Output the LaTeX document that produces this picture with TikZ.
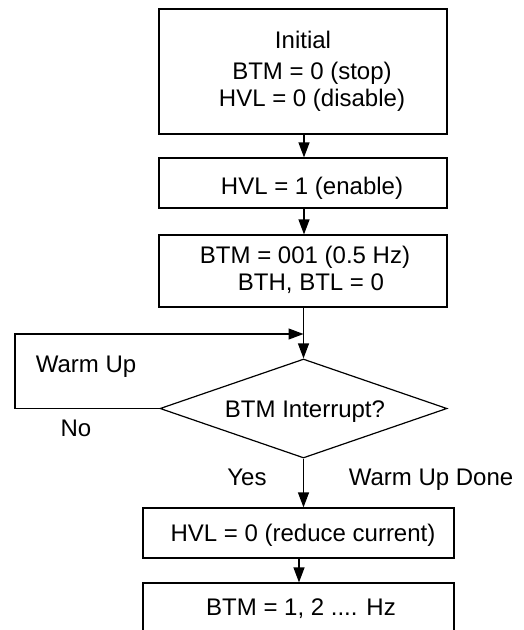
\documentclass[tikz,border=0pt]{standalone}
\usepackage{fontspec}
\setmainfont{Liberation Sans}
\usetikzlibrary{shapes.geometric,arrows.meta}
\begin{document}
\begin{tikzpicture}[x=1pt,y=-1pt,
  line width=1.2pt,
  box/.style={draw, rectangle, inner sep=0pt},
  dia/.style={draw, diamond, inner sep=0pt, minimum width=287pt, minimum height=99pt},
  txt/.style={anchor=base, inner sep=0pt, font=\fontsize{24pt}{29pt}\selectfont},
  arr/.style={-{Triangle[length=15pt,width=11pt]}}]
\useasboundingbox (0,0) rectangle (523,630);
\clip (0,0) rectangle (523,630);
% boxes
\node[box, minimum width=288pt, minimum height=125pt] (b1) at (303,71.5) {};
\node[box, minimum width=288pt, minimum height=50pt] (b2) at (303,183) {};
\node[box, minimum width=288pt, minimum height=72pt] (b3) at (303,271) {};
\node[dia] (d) at (303.5,408.5) {};
\node[box, minimum width=311pt, minimum height=50pt] (b4) at (298.5,533) {};
\node[box, minimum width=311pt, minimum height=67pt] (b5) at (298.5,616.5) {};
% texts
\node[txt] (t1) at (303,48) {Initial};
\node[txt] (t2) at (312,79) {BTM = 0 (stop)};
\node[txt] (t3) at (312,106) {HVL = 0 (disable)};
\node[txt] (t4) at (312,194) {HVL = 1 (enable)};
\node[txt] (t5) at (305,263) {BTM = 001 (0.5 Hz)};
\node[txt] (t6) at (311,290) {BTH, BTL = 0};
\node[txt] (t7) at (305,417) {BTM Interrupt?};
\node[txt] (t8) at (86,372) {Warm Up};
\node[txt] (t9) at (76,436) {No};
\node[txt] (t10) at (247,485) {Yes};
\node[txt] (t11) at (431,485) {Warm Up Done};
\node[txt] (t12) at (303,541) {HVL = 0 (reduce current)};
\node[txt] (t13) at (301,615) {BTM = 1, 2 .... Hz};
% connectors
\coordinate (lc) at (15,334);
\coordinate (jn) at (303.5,334);
\draw[arr] (b1.south -| 304,0) -- (b2.north -| 304,0);
\draw[arr] (b2.south -| 304,0) -- (b3.north -| 304,0);
\draw[arr] (b3.south -| d.north) -- (d.north);
\draw[arr] (d.west) -| (lc) -- (jn);
\draw[arr] (d.south) -- (d.south |- b4.north);
\draw[arr] (b4.south -| 299,0) -- (b5.north -| 299,0);
\end{tikzpicture}
\end{document}
